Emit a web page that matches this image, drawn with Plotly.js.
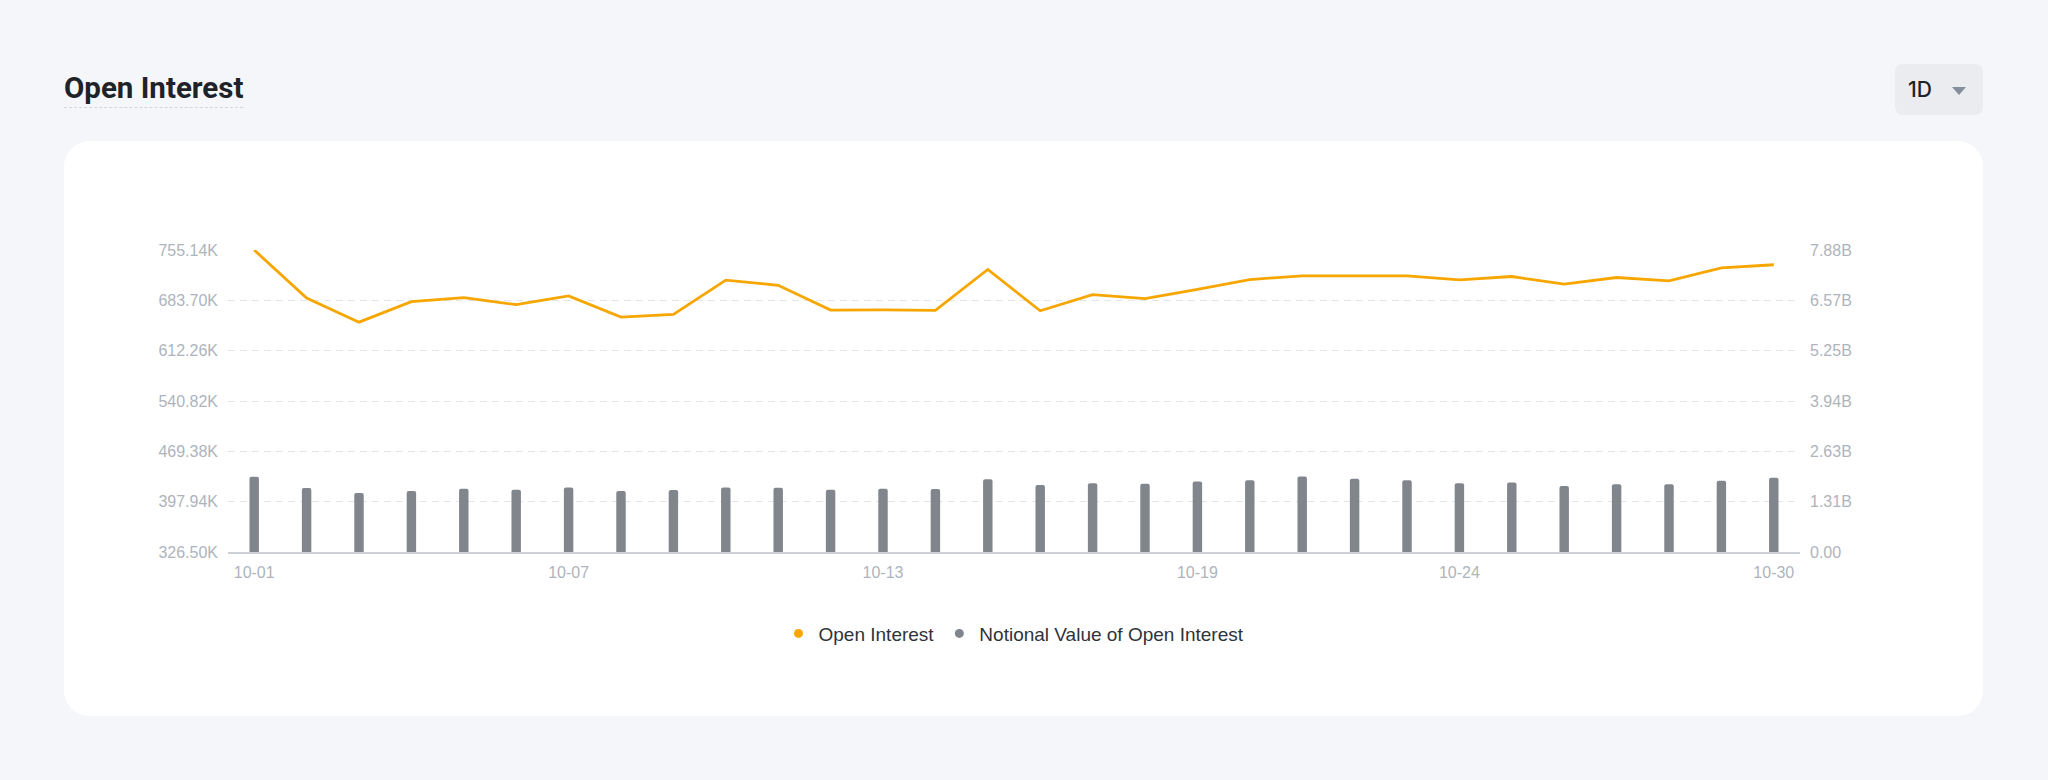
<!DOCTYPE html>
<html>
<head>
<meta charset="utf-8">
<script src="https://cdn.plot.ly/plotly-3.0.1.min.js"></script>
<style>
  html, body { margin: 0; padding: 0; }
  body { width: 2048px; height: 780px; background: #f5f6fa; position: relative; overflow: hidden; }
  #title {
    position: absolute; left: 64px; top: 72px;
    font-family: Roboto, "Noto Sans", sans-serif; font-weight: 700; font-size: 29.5px; line-height: 32px;
    color: #1e2329; padding-bottom: 3px; border-bottom: 1px dashed #d3d6db;
  }
  #period {
    position: absolute; left: 1895px; top: 64px; width: 88px; height: 51px;
    background: #eaecef; border-radius: 8px;
  }
  #period span {
    position: absolute; left: 13px; top: 12px;
    font-family: Inter, "Noto Sans", sans-serif; font-weight: 500; font-size: 21px; line-height: 27px; color: #1e2329;
  }
  #period i {
    position: absolute; left: 57px; top: 23px; width: 0; height: 0;
    border-left: 7px solid transparent; border-right: 7px solid transparent; border-top: 8px solid #848e9c;
  }
  #card {
    position: absolute; left: 64px; top: 141px; width: 1919px; height: 575px;
    background: #ffffff; border-radius: 26px; overflow: hidden;
  }
  #chart { width: 1919px; height: 575px; }
</style>
</head>
<body>
<div id="title">Open Interest</div>
<div id="period"><span>1D</span><i></i></div>
<div id="card"><div id="chart"></div></div>
<script>
// dates on the x axis
var days = ['10-01', '10-02', '10-03', '10-04', '10-05', '10-06', '10-07', '10-08', '10-09', '10-10',
            '10-11', '10-12', '10-13', '10-14', '10-15', '10-16', '10-17', '10-18', '10-19', '10-20',
            '10-21', '10-22', '10-23', '10-24', '10-25', '10-26', '10-27', '10-28', '10-29', '10-30'];
var dayTicks = ['10-01', '10-07', '10-13', '10-19', '10-24', '10-30'];

// open interest, thousands of contracts (left axis)
var openInterest = [755.1, 687.0, 652.7, 681.8, 687.5, 677.5, 689.9, 659.9, 663.7, 712.3,
                    705.1, 669.9, 670.1, 669.4, 727.5, 668.9, 691.8, 686.1, 699.4, 713.2,
                    718.5, 718.9, 718.5, 712.8, 717.5, 706.6, 716.1, 711.3, 729.9, 734.2];

// notional value of open interest, billions (right axis)
var notional = [1.961, 1.668, 1.538, 1.590, 1.650, 1.624, 1.685, 1.590, 1.616, 1.685,
                1.676, 1.624, 1.650, 1.642, 1.901, 1.745, 1.797, 1.780, 1.840, 1.875,
                1.970, 1.909, 1.875, 1.797, 1.814, 1.719, 1.771, 1.771, 1.858, 1.935];

var leftTicks = [326.50, 397.94, 469.38, 540.82, 612.26, 683.70, 755.14];
var rightTicks = [0, 1.31, 2.63, 3.94, 5.25, 6.57, 7.88];

var orange = '#f7a600';
var grey = '#81858c';
var tickFont = {family: '"Liberation Sans", Arial, sans-serif', size: 16, color: '#aeb4bc'};

var barTrace = {
  x: days,
  y: notional,
  yaxis: 'y2',
  type: 'bar',
  width: 0.18,
  marker: {color: grey, cornerradius: 2},
  showlegend: false,
  hoverinfo: 'x+y'
};
var lineTrace = {
  x: days,
  y: openInterest,
  type: 'scatter',
  mode: 'lines',
  line: {color: orange, width: 2.8},
  showlegend: false,
  hoverinfo: 'x+y'
};
// legend entries drawn as dots
var keyOI = {
  x: [null], y: [null], type: 'scatter', mode: 'markers',
  name: 'Open Interest', marker: {color: orange, size: 9}
};
var keyNotional = {
  x: [null], y: [null], type: 'scatter', mode: 'markers',
  name: 'Notional Value of Open Interest', marker: {color: grey, size: 9}
};

var layout = {
  width: 1919,
  height: 575,
  margin: {l: 164, r: 183, t: 109, b: 164},
  paper_bgcolor: '#ffffff',
  plot_bgcolor: '#ffffff',
  showlegend: true,
  legend: {
    orientation: 'h', x: 0.5, xanchor: 'center', y: -0.27, yanchor: 'middle',
    font: {family: '"Liberation Sans", Arial, sans-serif', size: 19, color: '#2f333a'},
    itemwidth: 30, itemgap: 0
  },
  xaxis: {
    type: 'category',
    range: [-0.5, 29.5],
    tickmode: 'array',
    tickvals: dayTicks,
    ticktext: dayTicks,
    showgrid: false,
    zeroline: false,
    showline: true,
    linecolor: '#cdd0d5',
    linewidth: 2,
    ticks: '',
    ticklabelstandoff: 5,
    tickfont: tickFont
  },
  yaxis: {
    range: [326.50, 755.14],
    tickmode: 'array',
    tickvals: leftTicks,
    ticktext: leftTicks.map(function (v) { return v.toFixed(2) + 'K'; }),
    showgrid: true,
    gridcolor: '#e3e5e8',
    gridwidth: 1.3,
    griddash: '7px,5px',
    zeroline: false,
    showline: false,
    ticks: '',
    ticklabelstandoff: 9,
    tickfont: tickFont
  },
  yaxis2: {
    overlaying: 'y',
    side: 'right',
    range: [0, 7.88],
    tickmode: 'array',
    tickvals: rightTicks,
    ticktext: rightTicks.map(function (v) { return v === 0 ? '0.00' : v.toFixed(2) + 'B'; }),
    showgrid: false,
    zeroline: false,
    showline: false,
    ticks: '',
    ticklabelstandoff: 9,
    tickfont: tickFont
  }
};

Plotly.newPlot('chart', [barTrace, lineTrace, keyOI, keyNotional], layout, {displayModeBar: false});
</script>
</body>
</html>
